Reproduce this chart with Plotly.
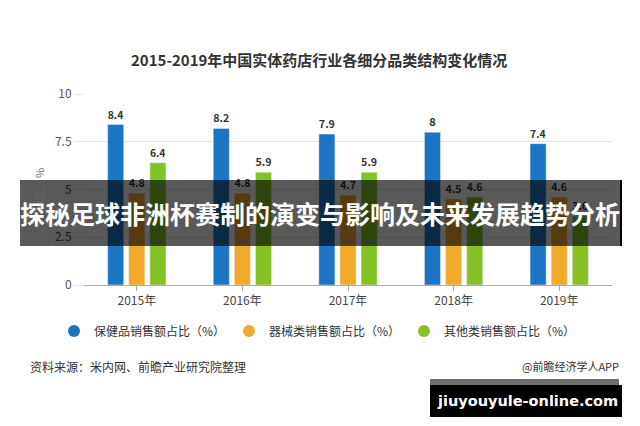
import plotly.graph_objects as go

years = ["2015年", "2016年", "2017年", "2018年", "2019年"]
series_names = ["保健品销售额占比（%）", "器械类销售额占比（%）", "其他类销售额占比（%）"]
health = [8.4, 8.2, 7.9, 8, 7.4]
device = [4.8, 4.8, 4.7, 4.5, 4.6]
other = [6.4, 5.9, 5.9, 4.6, 3.6]
colors = ["#1b75c3", "#f2aa2c", "#84c225"]
title_text = "2015-2019年中国实体药店行业各细分品类结构变化情况"
banner_text = "探秘足球非洲杯赛制的演变与影响及未来发展趋势分析"
source_text = "资料来源：米内网、前瞻产业研究院整理"
brand_text = "@前瞻经济学人APP"
site_text = "jiuyouyule-online.com"

W, H = 640, 426
ML, MR, MT, MB = 84, 28, 94, 141
PW, PH = W - ML - MR, H - MT - MB
FONT = "Noto Sans CJK SC"


def px(x):
    return (x - ML) / PW


def py(y):
    return (H - MB - y) / PH


fig = go.Figure()
for name, vals, c in zip(series_names, [health, device, other], colors):
    fig.add_trace(go.Bar(
        x=years, y=vals, name=name, marker_color=c, showlegend=False,
        text=[str(v) for v in vals], textposition="outside", cliponaxis=False,
        textfont=dict(family=FONT, size=11, color="#333333", weight="bold"),
    ))
    fig.add_trace(go.Scatter(
        x=[None], y=[None], mode="markers", name=name,
        marker=dict(symbol="circle", size=12, color=c),
    ))

fig.update_layout(
    width=W, height=H, margin=dict(l=ML, r=MR, t=MT, b=MB),
    paper_bgcolor="white", plot_bgcolor="white",
    barmode="group", bargap=0.40, bargroupgap=0.24,
    font=dict(family=FONT, color="#444444"),
    showlegend=True,
    legend=dict(orientation="h", x=px(54), y=py(331), xanchor="left", yanchor="middle",
                font=dict(family=FONT, size=12, color="#333333"),
                entrywidth=130, itemwidth=30, bgcolor="rgba(0,0,0,0)"),
    xaxis=dict(showline=True, linecolor="#aaaaaa", linewidth=1, ticks="outside",
               ticklen=5, tickcolor="#aaaaaa", tickfont=dict(size=12, color="#444444"),
               showgrid=False, fixedrange=True),
    yaxis=dict(range=[0, 10], tickvals=[0, 2.5, 5, 7.5, 10], ticktext=["0", "2.5", "5", "7.5", "10"],
               showgrid=True, gridcolor="#e3e3e3", zeroline=False, ticks="outside", ticklen=9,
               tickcolor="#e3e3e3", tickfont=dict(size=12, color="#555555"),
               title=dict(text="单位：%", font=dict(size=11, color="#666666"), standoff=8)),
)

annotations = [
    dict(text=title_text, x=px(319), y=py(60), xref="paper", yref="paper", showarrow=False,
         font=dict(family=FONT, size=15, color="#333333", weight="bold"), xanchor="center", yanchor="middle"),
    dict(text=source_text, x=px(28), y=py(366), xref="paper", yref="paper", showarrow=False,
         font=dict(family=FONT, size=12, color="#333333"), xanchor="left", yanchor="middle"),
    dict(text=brand_text, x=px(621), y=py(366), xref="paper", yref="paper", showarrow=False,
         font=dict(family=FONT, size=11, color="#333333"), xanchor="right", yanchor="middle"),
    dict(text=banner_text, x=px(320), y=py(213), xref="paper", yref="paper", showarrow=False,
         font=dict(family=FONT, size=25, color="white", weight="bold"), xanchor="center", yanchor="middle"),
    dict(text=site_text, x=px(527), y=py(401), xref="paper", yref="paper", showarrow=False,
         font=dict(family="DejaVu Sans", size=14.5, color="white", weight="bold"), xanchor="center", yanchor="middle"),
]
fig.update_layout(annotations=annotations)

shapes = [
    dict(type="rect", xref="paper", yref="paper", x0=px(20), x1=px(620), y0=py(246), y1=py(180),
         fillcolor="rgba(0,0,0,0.65)", line_width=0, layer="above"),
    dict(type="rect", xref="paper", yref="paper", x0=px(620), x1=px(622), y0=py(246), y1=py(180),
         fillcolor="black", line_width=0, layer="above"),
    dict(type="rect", xref="paper", yref="paper", x0=px(430), x1=px(619), y0=py(385), y1=py(379),
         fillcolor="#6e6e6e", line_width=0, layer="above"),
    dict(type="rect", xref="paper", yref="paper", x0=px(430), x1=px(622), y0=py(417), y1=py(385),
         fillcolor="black", line_width=0, layer="above"),
]
fig.update_layout(shapes=shapes)

fig.write_html("out.html")
